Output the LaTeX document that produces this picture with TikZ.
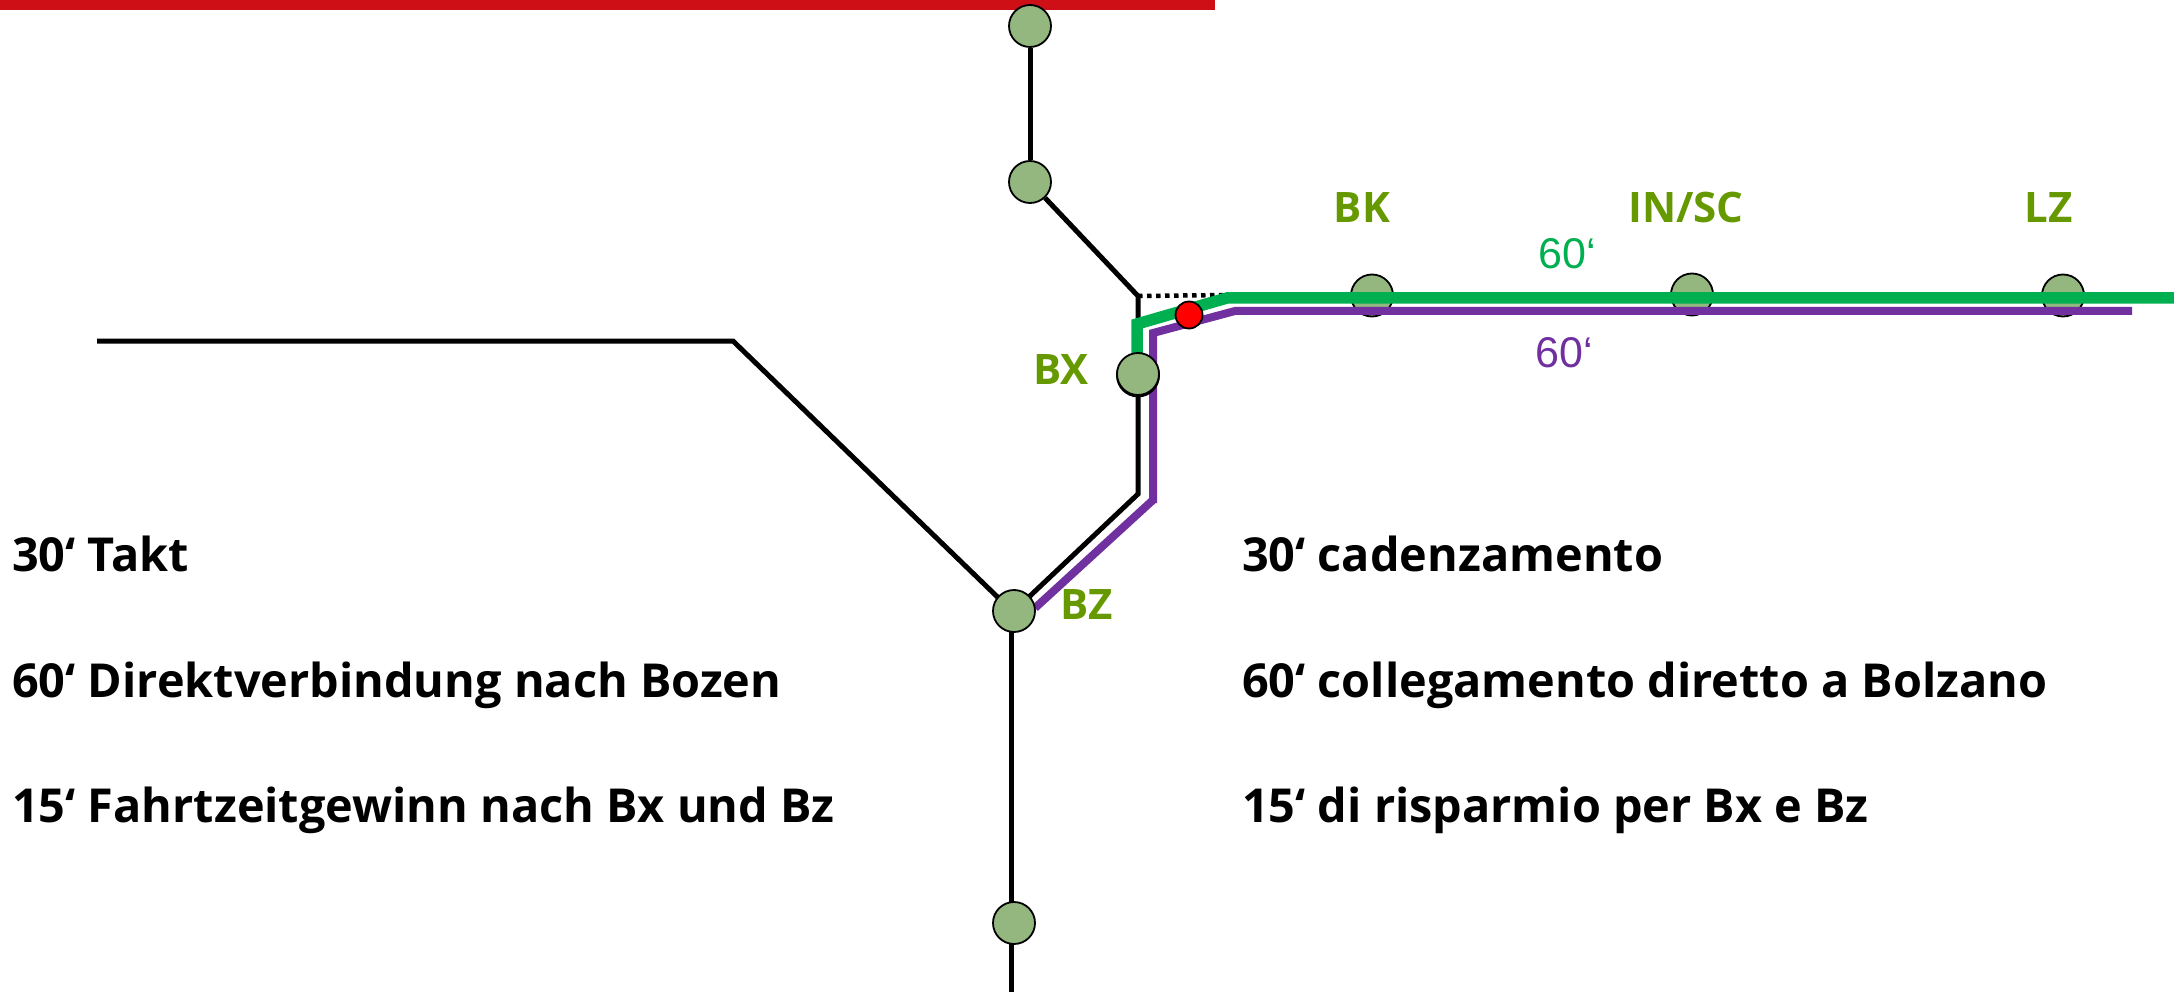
\documentclass[tikz,border=0pt]{standalone}
\usepackage{fontspec}
\setmainfont{Open Sans}
\newfontfamily\labelsans{Liberation Sans}
\definecolor{stationfill}{HTML}{94B67F}
\definecolor{linegreen}{HTML}{00B050}
\definecolor{linepurple}{HTML}{7030A0}
\definecolor{labelgreen}{HTML}{669900}
\definecolor{barred}{HTML}{CE0F16}
\tikzset{
  station/.style={circle,draw=black,line width=1.8pt,fill=stationfill,minimum size=42pt,inner sep=0pt},
  redstation/.style={circle,draw=black,line width=1.8pt,fill=red,minimum size=27pt,inner sep=0pt},
  track/.style={draw=black,line width=5pt,line join=miter},
  greenline/.style={draw=linegreen,line width=11.5pt,line join=miter},
  purpleline/.style={draw=linepurple,line width=8pt,line join=miter},
  barline/.style={draw=barred,line width=10pt},
  dotline/.style={draw=black,line width=4.5pt,dash pattern=on 4.5pt off 4.5pt},
  stationlabel/.style={anchor=base,text=labelgreen,font=\fontsize{42}{50}\selectfont\bfseries,inner sep=0pt},
  minutes/.style={anchor=base,font=\labelsans\fontsize{43}{50}\selectfont,inner sep=0pt},
  info/.style={anchor=base west,font=\fontsize{46.8}{56}\selectfont\bfseries,inner sep=0pt},
}
\begin{document}
\begin{tikzpicture}[x=1pt,y=-1pt]
\useasboundingbox (0,0) rectangle (2174,992);
\coordinate (barL) at (0,5);
\coordinate (barR) at (1215,5);
\draw[barline] (barL) -- (barR);
\begin{scope}[yshift=-1pt]
\coordinate (west) at (97,340);
\coordinate (westBend) at (733,340);
\coordinate (junction) at (1138,295);
\coordinate (blackBend) at (1138,493);
\coordinate (bzJoin) at (1013,611);
\coordinate (bottomTop) at (1011,611);
\coordinate (bottomEnd) at (1011,994);
\coordinate (dotEnd) at (1227,294);
\coordinate (greenStart) at (1137,355);
\coordinate (greenBendA) at (1137,323);
\coordinate (greenBendB) at (1227,297);
\coordinate (greenEnd) at (2174,297);
\coordinate (purpleStart) at (1035,607);
\coordinate (purpleBendA) at (1153,499);
\coordinate (purpleFoot) at (1153,502);
\coordinate (purpleBendB) at (1153,332);
\coordinate (purpleBendC) at (1235,310);
\coordinate (purpleEnd) at (2132,310);
% stations under the lines
\node[station] (bk) at (1372,294.5) {};
\node[station] (in) at (1692,293.5) {};
\node[station] (lz) at (2063,294.5) {};
\node[station] (n1) at (1030,25) {};
\node[station] (n2) at (1030,181) {};
% black tracks
\draw[track] (n1) -- (n2);
\draw[track] (n2) -- (junction) -- (blackBend) -- (bzJoin);
\draw[track] (west) -- (westBend) -- (bzJoin);
\draw[track] (bottomTop) -- (bottomEnd);
\node[station] (n6) at (1014,922) {};
\draw[dotline] (junction) -- (dotEnd);
% coloured lines
\draw[purpleline] (purpleStart) -- (purpleBendA);
\draw[purpleline] (purpleFoot) -- (purpleBendB) -- (purpleBendC) -- (purpleEnd);
\draw[greenline] (greenStart) -- (greenBendA) -- (greenBendB) -- (greenEnd);
% stations over the lines
\node[station] (bxb) at (1138,374.5) {};
\node[station] (bx) at (1138,373) {};
\node[station] (bz) at (1014,610) {};
\node[redstation] (red) at (1189,314) {};
% labels
\node[stationlabel] (lbk) at (1362,222) {BK};
\node[stationlabel] (lin) at (1686,222) {IN/SC};
\node[stationlabel] (llz) at (2049,222) {LZ};
\node[stationlabel] (lbx) at (1061,383) {BX};
\node[stationlabel] (lbz) at (1087,618) {BZ};
\node[minutes,text=linegreen] (mg) at (1567,268) {60‘};
\node[minutes,text=linepurple] (mp) at (1564,366) {60‘};
\node[info] (de1) at (12,570) {30‘ Takt};
\node[info] (de2) at (12,696) {60‘ Direktverbindung nach Bozen};
\node[info] (de3) at (12,821) {15‘ Fahrtzeitgewinn nach Bx und Bz};
\node[info] (it1) at (1242,570) {30‘ cadenzamento};
\node[info] (it2) at (1242,696) {60‘ collegamento diretto a Bolzano};
\node[info] (it3) at (1242,821) {15‘ di risparmio per Bx e Bz};
\end{scope}
\end{tikzpicture}
\end{document}
